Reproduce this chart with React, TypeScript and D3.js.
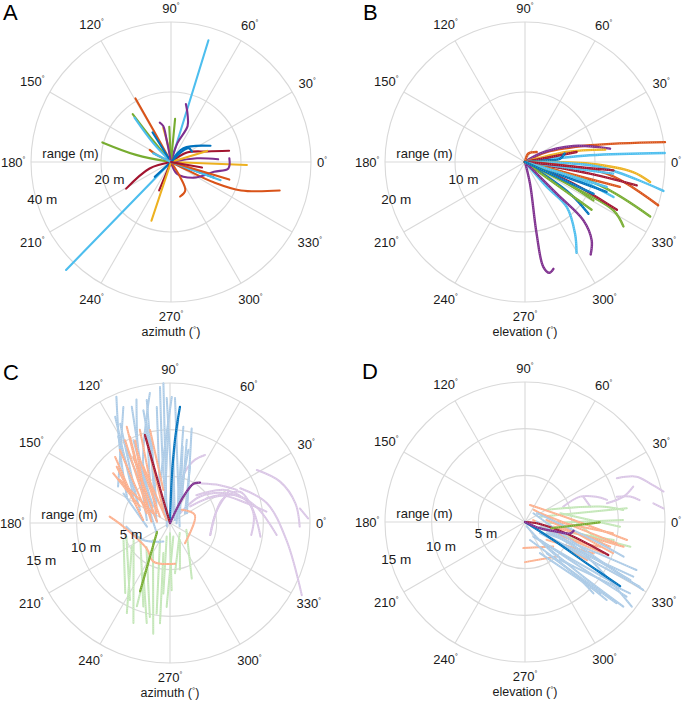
import React from 'react';
import * as d3 from 'd3';

type Pt = [number, number]; // [angle in degrees, range in metres]
type Track = { s: number; p: Pt[] };

const W = 685;
const H = 702;
const FONT = "'Liberation Sans', Arial, Helvetica, sans-serif";

// MATLAB default colour order (series index -> colour)
const SERIES_COLORS = ['#0072BD', '#D95319', '#EDB120', '#7E2F8E', '#77AC30', '#4DBEEE', '#A2142F'];
const GROUP_LIGHT = { blue: '#abcae6', orange: '#fcaf8c', green: '#c2e6b6', purple: '#d9c5e5' };

const ANGLE_TICKS = [0, 30, 60, 90, 120, 150, 180, 210, 240, 270, 300, 330];
const RANGE_TICKS_A = [20, 40];
const RANGE_TICKS_B = [10, 20];
const RANGE_TICKS_CD = [5, 10, 15];

// Panel A: azimuth vs range
const azimuthTracksA: Track[] = [
  { s: 5, p: [[0, 0], [72.9, 36.4]] },
  { s: 5, p: [[0, 0], [225.8, 43]] },
  { s: 1, p: [[0, 0], [333.4, 5.2], [334.5, 13.5], [337.9, 21.6], [345.3, 32.1]] },
  { s: 2, p: [[0, 0], [357.7, 21.7]] },
  { s: 6, p: [[0, 0], [30.8, 5.3], [16.2, 10.8], [10.9, 16.9]] },
  { s: 0, p: [[0, 0], [47.9, 5.3], [22.3, 12.2]] },
  { s: 3, p: [[0, 0], [296.6, 3.7], [325.5, 7.9], [347.1, 12.6], [353.6, 16.5], [3.7, 16.7]] },
  { s: 3, p: [[0, 0], [71.3, 5.7], [65.2, 11.3], [70.8, 14.4], [75.6, 17.1]] },
  { s: 1, p: [[0, 0], [118.9, 10.6], [119.2, 20.8]] },
  { s: 4, p: [[0, 0], [129.7, 9.5], [128.7, 17.5]] },
  { s: 5, p: [[0, 0], [133.4, 7.4], [129.5, 16.4]] },
  { s: 0, p: [[0, 0], [122, 10.0]] },
  { s: 4, p: [[0, 0], [168.5, 10.2], [164.1, 20.4]] },
  { s: 1, p: [[0, 0], [153.9, 4.6], [150.3, 7.0]] },
  { s: 6, p: [[0, 0], [196.8, 6.4], [210.7, 14.9]] },
  { s: 0, p: [[0, 0], [222.5, 6.3]] },
  { s: 6, p: [[0, 0], [247.4, 8.8]] },
  { s: 2, p: [[0, 0], [251.6, 17.7]] },
  { s: 1, p: [[0, 0], [301.5, 5.0], [296.6, 9.1], [284.8, 10.2]] },
  { s: 3, p: [[0, 0], [8.1, 7.5], [3.3, 13.5]] },
  { s: 0, p: [[0, 0], [340, 13]] },
  { s: 5, p: [[0, 0], [339.8, 15.1]] },
  { s: 1, p: [[0, 0], [343.2, 17.4]] },
  { s: 2, p: [[0, 0], [17.1, 10.8]] },
  { s: 2, p: [[0, 0], [99.9, 4.5], [102.8, 10.0]] },
  { s: 4, p: [[0, 0], [84.6, 12.4]] },
  { s: 4, p: [[0, 0], [92.8, 10.1]] },
  { s: 3, p: [[0, 0], [101.1, 6.5], [102.2, 10.5], [105.9, 11.7]] },
  { s: 0, p: [[0, 0], [44.1, 4.3], [38.3, 6.4], [26.6, 6.7]] },
  { s: 5, p: [[0, 0], [153.9, 5.7]] },
  { s: 6, p: [[0, 0], [350, 9]] },
];

// Panel B: elevation vs range
const elevationTracksB: Track[] = [
  { s: 1, p: [[0, 0], [24.8, 3.4], [14.4, 9.6], [8.1, 20.2]] },
  { s: 3, p: [[0, 0], [29.1, 2.5], [18.3, 7.3], [8.9, 12.3]] },
  { s: 5, p: [[0, 0], [5.9, 9.3], [3.7, 20.0]] },
  { s: 2, p: [[0, 0], [13.5, 6.1], [8.8, 11.6]] },
  { s: 6, p: [[0, 0], [11, 7.5]] },
  { s: 0, p: [[0, 0], [4, 3.5], [5, 5.0], [12.2, 5.8]] },
  { s: 2, p: [[0, 0], [358.5, 9.3], [354.7, 15.5], [350.9, 18.1]] },
  { s: 5, p: [[0, 0], [356.2, 10.7], [348.2, 20.2]] },
  { s: 1, p: [[0, 0], [351.9, 11.8], [342, 20.0]] },
  { s: 6, p: [[0, 0], [349.8, 9.4], [348.2, 16.3]] },
  { s: 4, p: [[0, 0], [342.7, 11.2], [336.5, 19.5]] },
  { s: 4, p: [[0, 0], [332.6, 7.8], [331.3, 14.4], [326.8, 16.8]] },
  { s: 6, p: [[0, 0], [335.9, 7.6], [332.5, 14.8]] },
  { s: 5, p: [[0, 0], [342.8, 7.2], [338.4, 13.6]] },
  { s: 0, p: [[0, 0], [339.8, 12.4]] },
  { s: 0, p: [[0, 0], [324.9, 7.9], [320.8, 11.7]] },
  { s: 4, p: [[0, 0], [324.2, 7.3], [324.4, 11.7]] },
  { s: 5, p: [[0, 0], [311.1, 4.7], [312.8, 8.8], [304.9, 12.5], [299.6, 14.9]] },
  { s: 3, p: [[0, 0], [315, 6.4], [315, 11.8], [310.4, 14.7], [305.4, 16.2]] },
  { s: 3, p: [[0, 0], [283, 3.2], [279.2, 10.4], [279.9, 15.2], [282.4, 16.2], [284.9, 15.8]] },
  { s: 1, p: [[0, 0], [345.3, 14.0]] },
  { s: 5, p: [[0, 0], [352.5, 12.7]] },
  { s: 2, p: [[0, 0], [343.4, 9.2]] },
  { s: 1, p: [[0, 0], [68.2, 1.3], [40.6, 2.2]] },
  { s: 6, p: [[0, 0], [354.6, 12.7]] },
  { s: 5, p: [[0, 0], [343, 12.2]] },
  { s: 4, p: [[0, 0], [334.7, 5.0], [330.7, 11.2]] },
  { s: 0, p: [[0, 0], [335.1, 10.8]] },
];

// Panel C: azimuth, four groups of trajectories
const azimuthGroupBlueC: Pt[][] = [
  [[113, 14.7], [124.4, 9.5], [148.7, 5.4]],
  [[111.9, 13.4], [144.9, 6.8]],
  [[105.2, 13.7], [115.5, 7.9], [172.7, 2.5]],
  [[100.7, 13.4], [167, 1.5]],
  [[92.7, 15.0], [228, 0.5]],
  [[91.5, 13.4], [71, 1.1]],
  [[89.2, 13.5], [103, 4.7]],
  [[87.7, 13.4], [340, 1.1]],
  [[82.1, 10.4], [357, 0.7]],
  [[77.1, 10.4], [30, 2.1]],
  [[78.6, 9.1], [63, 2.8]],
  [[98.8, 14.1], [115.3, 6.7], [135.6, 2.5]],
  [[113.8, 9.7], [149.9, 2.1]],
  [[120.9, 10.8], [156.6, 3.5]],
  [[120.7, 9.1], [174, 1.4]],
  [[96.5, 12.5], [110.8, 3.0]],
  [[85.4, 11.1], [88.1, 5.3]],
  [[103.2, 11.0], [118.8, 4.4]],
  [[184.8, 4.7], [212.5, 3.4], [250.3, 2.1]],
  [[87.1, 7.1], [31, 0.6]],
  [[80.6, 8.3], [44, 1.5]],
  [[116.6, 11.9], [145.4, 4.3]],
  [[108.2, 13.1], [145, 3.0]],
  [[94.2, 14.6], [97.6, 5.4], [119, 0.4]],
  [[70.5, 6.4], [32.8, 1.9]],
  [[124.9, 5.6], [217.8, 1.8]],
  [[147.6, 5.9], [189, 2.5]],
  [[117.3, 12.8], [144.3, 4.8]],
  [[103.3, 12.4], [107.2, 4.8], [117.8, 0.8]],
  [[90.9, 11.0], [102.3, 2.5]],
  [[75.9, 8.1], [63, 2.0]],
  [[102.5, 9.1], [129.2, 2.3]],
];
const azimuthGroupOrangeC: Pt[][] = [
  [[107.9, 10.5], [144, 1.8]],
  [[114.9, 10.2], [162.4, 2.2]],
  [[124.4, 9.5], [157.5, 2.7]],
  [[133.4, 8.3], [173.6, 2.9]],
  [[105.7, 9.2], [117.1, 1.6]],
  [[118.9, 8.1], [174.3, 1.4]],
  [[139.3, 7.1], [149.9, 2.1]],
  [[115.3, 6.7], [138, 0.5]],
  [[129.7, 9.2], [147.9, 4.6]],
  [[174, 6.5], [184.5, 5.0], [227.4, 3.7], [246.7, 4.5], [277.1, 4.4]],
  [[48.1, 1.9], [17.7, 2.8], [306.4, 2.7]],
  [[114.2, 11.3], [124.9, 5.6]],
  [[112.9, 9.6], [128.9, 4.5]],
  [[118.5, 10.1], [175.8, 2.0]],
  [[114.5, 8.6], [147.7, 1.3]],
  [[138.8, 8.1], [151.4, 3.7]],
  [[102.1, 10.2], [101.4, 3.6]],
];
const azimuthGroupGreenC: Pt[][] = [
  [[197.5, 4.9], [242.5, 9.3]],
  [[204.9, 4.3], [249.9, 11.4]],
  [[204.5, 3.5], [252.3, 9.4]],
  [[225.4, 3.6], [257.9, 10.3]],
  [[225.6, 2.6], [261.4, 12.0]],
  [[239.5, 2.1], [261.6, 9.8]],
  [[256.3, 1.5], [264.6, 7.6]],
  [[283.7, 1.5], [267.7, 9.0]],
  [[314, 1.5], [275.7, 5.4]],
  [[337.2, 1.9], [291.4, 6.4]],
  [[200, 5.3], [237.4, 8.9]],
  [[236.6, 3.9], [248.3, 9.6]],
  [[242.1, 6.1], [256.9, 11.0]],
  [[257.6, 3.3], [264.3, 10.8]],
  [[270, 1.1], [271.4, 7.2]],
  [[211.7, 4.8], [244.4, 10.7]],
  [[300.5, 2.1], [282, 5.1]],
];
const azimuthGroupPurpleC: Pt[][] = [
  [[74.6, 4.0], [73.7, 5.7], [68.4, 7.3], [62.8, 8.2]],
  [[46.4, 4.1], [30.2, 7.0], [12.7, 8.8], [351.4, 9.8]],
  [[39.2, 2.8], [29.2, 6.1], [14.4, 8.5], [6.7, 10.4]],
  [[31.4, 10.9], [20.6, 12.6], [8.9, 13.6], [358.4, 13.9]],
  [[28.2, 7.1], [13.7, 5.1], [343.3, 4.5]],
  [[33.9, 4.7], [22.8, 7.7], [10.7, 9.4], [353.6, 11.5]],
  [[51.4, 5.4], [37.2, 6.7], [26.3, 8.0]],
  [[26.3, 8.4], [11.5, 10.6], [351.7, 12.6], [331.3, 16.1]],
  [[343.3, 4.5], [24, 6.1], [24.1, 8.2], [6.6, 9.0], [351.6, 8.8]],
  [[6.4, 14.0], [1.9, 14.8]],
  [[44, 1.5], [41.3, 4.3], [27.6, 6.9], [16.7, 8.6]],
];
const azimuthHighlightC: Track[] = [
  { s: 0, p: [[0, 0], [87.8, 4.6], [86.6, 8.9], [85.1, 12.5]] },
  { s: 6, p: [[0, 0], [106.1, 4.9], [105.9, 9.8]] },
  { s: 3, p: [[0, 0], [63.1, 3.2], [59.1, 4.9], [53.4, 5.4]] },
  { s: 4, p: [[215, 1.7], [246.4, 8.0]] },
];

// Panel D: elevation, four groups of trajectories
const elevationGroupBlueD: Pt[][] = [
  [[46, 1.3], [335.8, 6.5], [330.1, 14.6]],
  [[1.6, 1.25], [331.8, 7.1], [321.6, 14.6]],
  [[342.7, 1.7], [333, 6.6], [331.1, 12.9]],
  [[332.4, 2.6], [336.7, 7.6], [336.7, 13.0]],
  [[309.8, 2.5], [320.9, 7.6], [323.7, 13.5]],
  [[311.3, 3.5], [316.9, 8.6], [319.3, 13.9]],
  [[309.3, 4.8], [316.3, 12.1]],
  [[312.6, 5.5], [325.8, 13.6]],
  [[299.6, 1.8], [321.8, 6.6], [325.8, 12.3]],
  [[295.6, 3.7], [316.4, 11.1]],
  [[327.6, 3.6], [333.2, 13.0]],
  [[323, 2.0], [330.6, 14.1]],
  [[304.7, 4.1], [318.4, 13.1]],
  [[285.5, 2.0], [313.3, 7.6], [313.8, 10.6]],
  [[290, 0.5], [312.1, 4.5], [317.3, 7.0]],
  [[36.6, 1.6], [345.2, 7.6], [340.6, 11.2]],
];
const elevationGroupOrangeD: Pt[][] = [
  [[73.6, 1.9], [2.4, 5.2], [350, 11.1]],
  [[55.2, 1.6], [340.5, 10.0]],
  [[30, 1.9], [346.9, 10.1]],
  [[5.3, 2.3], [343.8, 9.5]],
  [[342.7, 1.7], [338.2, 9.0]],
  [[350.6, 3.1], [345.9, 10.9]],
  [[266.4, 2.8], [319, 4.0]],
  [[270, 4.3], [312.4, 5.0]],
  [[320.3, 3.0], [335.4, 8.1]],
  [[0.6, 3.4], [352.7, 9.5]],
  [[13.5, 0.9], [339.6, 5.5], [341.8, 8.5]],
  [[327.6, 3.6], [328.4, 7.8]],
];
const elevationGroupGreenD: Pt[][] = [
  [[19.6, 1.7], [7.7, 11.0]],
  [[356.5, 2.3], [1.2, 10.5]],
  [[350.6, 3.1], [346.8, 11.6]],
  [[13.9, 3.9], [357.2, 10.2]],
  [[346.8, 5.3], [348.5, 9.7]],
  [[29, 2.7], [11.6, 8.2], [7, 10.6]],
  [[330.8, 1.0], [341.9, 6.2]],
  [[2.4, 5.2], [343.2, 9.1]],
];
const elevationGroupPurpleD: Pt[][] = [
  [[21.8, 4.4], [24.7, 6.5], [19.5, 8.1], [15.1, 9.1]],
  [[25.5, 10.9], [22.1, 12.9], [17.2, 14.0], [12.4, 15.2]],
  [[12.9, 9.0], [14.4, 10.9], [18.1, 12.2]],
  [[8.3, 13.9], [5.6, 14.9]],
  [[23.5, 6.8], [13.3, 7.2]],
  [[15.4, 10.2], [13.6, 11.6], [10.8, 12.5]],
];
const elevationHighlightD: Track[] = [
  { s: 0, p: [[0, 0], [327.6, 3.6], [326.2, 8.0], [326, 12.3]] },
  { s: 6, p: [[0, 0], [352.4, 1.6], [343.9, 5.0], [338.4, 9.6]] },
  { s: 4, p: [[346.6, 2.9], [359.7, 8.0]] },
  { s: 3, p: [[0, 0], [337.1, 1.7], [343, 3.5], [345.9, 5.0], [349.8, 5.3]] },
];

type Layer = { tracks: Pt[][]; color: (i: number) => string; width: number; dotted: boolean };

interface PanelProps {
  letter: string;
  letterX: number;
  letterY: number;
  cx: number;
  cy: number;
  maxR: number;
  rTicks: number[];
  title: string;
  layers: Layer[];
}

const R = 140;
const GRID = '#d9d9d9';
const TEXT = '#1a1a1a';

function PolarPanel(props: PanelProps) {
  const { letter, letterX, letterY, cx, cy, maxR, rTicks, title, layers } = props;
  const rScale = d3.scaleLinear().domain([0, maxR]).range([0, R]);
  const aScale = d3.scaleLinear().domain([0, 360]).range([Math.PI / 2, Math.PI / 2 - 2 * Math.PI]);
  const line = d3
    .lineRadial<Pt>()
    .angle((d) => aScale(d[0]))
    .radius((d) => rScale(d[1]))
    .curve(d3.curveCatmullRom.alpha(0.5));

  return (
    <g>
      <text x={letterX} y={letterY} fontSize={22} fontFamily={FONT} fill="#000">
        {letter}
      </text>
      <g transform={`translate(${cx},${cy})`}>
        {rTicks.map((t) => (
          <circle key={'c' + t} r={rScale(t)} fill="none" stroke={GRID} strokeWidth={1.1} />
        ))}
        {ANGLE_TICKS.map((a) => {
          const th = (a * Math.PI) / 180;
          return (
            <line
              key={'s' + a}
              x1={0}
              y1={0}
              x2={R * Math.cos(th)}
              y2={-R * Math.sin(th)}
              stroke={GRID}
              strokeWidth={1.1}
            />
          );
        })}
        {layers.map((layer, li) => (
          <g key={'l' + li}>
            {layer.tracks.map((t, i) => {
              const d = line(t) || '';
              return (
                <g key={i}>
                  <path
                    d={d}
                    fill="none"
                    stroke={layer.color(i)}
                    strokeWidth={layer.width}
                    strokeLinecap="round"
                    strokeLinejoin="round"
                  />
                  {layer.dotted && (
                    <path
                      d={d}
                      fill="none"
                      stroke="#ffffff"
                      strokeOpacity={0.4}
                      strokeWidth={0.8}
                      strokeDasharray="0.8 1.4"
                    />
                  )}
                </g>
              );
            })}
          </g>
        ))}
        {ANGLE_TICKS.map((a) => {
          const th = (a * Math.PI) / 180;
          const c = Math.cos(th);
          const s = Math.sin(th);
          const w = String(a).length * 6.9 + 3;
          const h = 10;
          const off = R + 6 + (Math.abs(c) * w) / 2 + Math.abs(s) * (h / 2 + 3);
          return (
            <text
              key={'t' + a}
              x={off * c}
              y={-off * s + 4.5}
              textAnchor="middle"
              fontSize={13}
              fontFamily={FONT}
              fill={TEXT}
            >
              {a}
              <tspan fontSize={7} dy={-5}>
                °
              </tspan>
            </text>
          );
        })}
        <text x={-100.5} y={-9 + 4.5} textAnchor="middle" fontSize={13} fontFamily={FONT} fill={TEXT}>
          range (m)
        </text>
        {rTicks.map((t) => {
          const rr = rScale(t) - 6;
          const th = (196 * Math.PI) / 180;
          return (
            <text
              key={'rl' + t}
              x={rr * Math.cos(th)}
              y={-rr * Math.sin(th) + 4.6}
              textAnchor="middle"
              fontSize={13.5}
              fontFamily={FONT}
              fill={TEXT}
            >
              {`${t} m`}
            </text>
          );
        })}
        <text x={0} y={174} textAnchor="middle" fontSize={12.5} fontFamily={FONT} fill={TEXT}>
          {title.replace(' (°)', ' (')}
          <tspan fontSize={8} dy={-4}>
            °
          </tspan>
          <tspan dy={4}>)</tspan>
        </text>
      </g>
    </g>
  );
}

const seriesColor = (tracks: Track[]) => (i: number) => SERIES_COLORS[tracks[i].s];
const fixed = (c: string) => () => c;

export default function App() {
  return (
    <svg
      width={W}
      height={H}
      viewBox={`0 0 ${W} ${H}`}
      style={{ position: 'absolute', left: 0, top: 0, background: '#fff' }}
    >
      <rect width={W} height={H} fill="#fff" />
      <PolarPanel
        letter="A"
        letterX={3}
        letterY={20}
        cx={171}
        cy={162}
        maxR={40}
        rTicks={RANGE_TICKS_A}
        title="azimuth (°)"
        layers={[
          { tracks: azimuthTracksA.map((t) => t.p), color: seriesColor(azimuthTracksA), width: 2.1, dotted: false },
        ]}
      />
      <PolarPanel
        letter="B"
        letterX={363}
        letterY={20}
        cx={525}
        cy={162}
        maxR={20}
        rTicks={RANGE_TICKS_B}
        title="elevation (°)"
        layers={[
          { tracks: elevationTracksB.map((t) => t.p), color: seriesColor(elevationTracksB), width: 2.4, dotted: true },
        ]}
      />
      <PolarPanel
        letter="C"
        letterX={3}
        letterY={380}
        cx={170}
        cy={523}
        maxR={15}
        rTicks={RANGE_TICKS_CD}
        title="azimuth (°)"
        layers={[
          { tracks: azimuthGroupPurpleC, color: fixed(GROUP_LIGHT.purple), width: 2, dotted: true },
          { tracks: azimuthGroupGreenC, color: fixed(GROUP_LIGHT.green), width: 2, dotted: true },
          { tracks: azimuthGroupBlueC, color: fixed(GROUP_LIGHT.blue), width: 2, dotted: true },
          { tracks: azimuthGroupOrangeC, color: fixed(GROUP_LIGHT.orange), width: 2, dotted: true },
          { tracks: azimuthHighlightC.map((t) => t.p), color: seriesColor(azimuthHighlightC), width: 2.2, dotted: true },
        ]}
      />
      <PolarPanel
        letter="D"
        letterX={362}
        letterY={379}
        cx={525}
        cy={522}
        maxR={15}
        rTicks={RANGE_TICKS_CD}
        title="elevation (°)"
        layers={[
          { tracks: elevationGroupPurpleD, color: fixed(GROUP_LIGHT.purple), width: 2, dotted: true },
          { tracks: elevationGroupGreenD, color: fixed(GROUP_LIGHT.green), width: 2, dotted: true },
          { tracks: elevationGroupOrangeD, color: fixed(GROUP_LIGHT.orange), width: 2, dotted: true },
          { tracks: elevationGroupBlueD, color: fixed(GROUP_LIGHT.blue), width: 2, dotted: true },
          {
            tracks: elevationHighlightD.map((t) => t.p),
            color: seriesColor(elevationHighlightD),
            width: 2.2,
            dotted: true,
          },
        ]}
      />
    </svg>
  );
}
